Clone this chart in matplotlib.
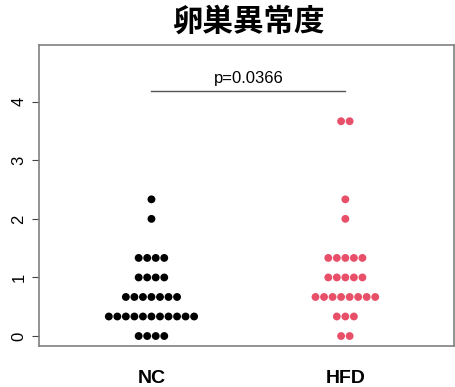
import matplotlib
matplotlib.use("Agg")
import matplotlib.pyplot as plt
import numpy as np

categories = ["NC", "HFD"]
# score levels and number of animals at each level
nc_levels = [0, 1/3, 2/3, 1, 4/3, 2, 7/3]
nc_counts = [4, 11, 7, 4, 4, 1, 1]
hfd_levels = [0, 1/3, 2/3, 1, 4/3, 2, 7/3, 11/3]
hfd_counts = [2, 3, 8, 5, 5, 1, 1, 2]
colors = ["#000000", "#E8506A"]
p_text = "p=0.0366"
yticks = [0, 1, 2, 3, 4]
title = "卵巣異常度"

fig = plt.figure(figsize=(4.55, 3.87), dpi=100)
ax = fig.add_axes([0.0857, 0.106, 0.912, 0.778])

spacing = 0.044
for i, (levels, counts) in enumerate([(nc_levels, nc_counts), (hfd_levels, hfd_counts)]):
    xs, ys = [], []
    for lv, c in zip(levels, counts):
        offs = (np.arange(c) - (c - 1) / 2) * spacing
        xs.extend(i + 1 + offs)
        ys.extend([lv] * c)
    ax.scatter(xs, ys, s=32, color=colors[i], edgecolors="none", zorder=3)

ax.set_xlim(0.42, 2.56)
ax.set_ylim(-0.17, 4.97)
ax.set_xticks([])
ax.set_yticks(yticks)
ax.set_yticklabels([str(t) for t in yticks], rotation=90, va="center",
                   family="Liberation Sans", fontsize=12)
ax.tick_params(axis="y", length=5, color="#444444", pad=4)
for s in ax.spines.values():
    s.set_color("#808080")
    s.set_linewidth(1.2)

# significance bar
ax.plot([1, 2], [4.19, 4.19], color="#555555", lw=1)
ax.text(1.5, 4.27, p_text, ha="center", va="bottom", fontsize=12,
        family="Liberation Sans")

for i, c in enumerate(categories):
    ax.text(i + 1, -0.72, c, ha="center", va="center", fontsize=14,
            fontweight="bold", family="Liberation Sans",
            transform=ax.transData, clip_on=False)

fig.text(0.545, 0.943, title, ha="center", va="center", fontsize=22,
         fontweight="bold", family=["Noto Sans CJK JP", "DejaVu Sans"])

fig.savefig("out.png", dpi=100)
